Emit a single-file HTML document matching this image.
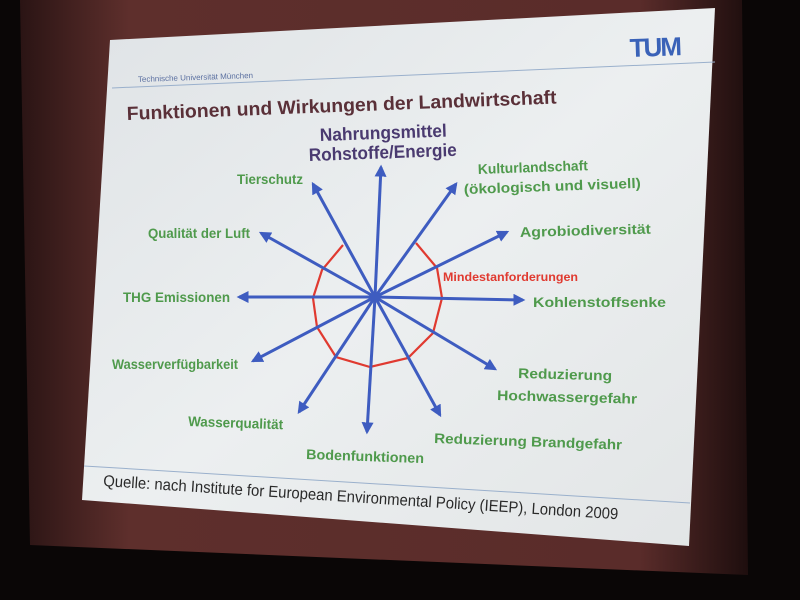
<!DOCTYPE html>
<html><head><meta charset="utf-8"><style>
html,body{margin:0;padding:0;background:#0a0606;}
svg{display:block;font-family:"Liberation Sans",sans-serif;}
.g{fill:#4f9a4c;font-weight:bold;font-size:14px;}
</style></head><body>
<svg width="800" height="600" viewBox="0 0 800 600" xmlns="http://www.w3.org/2000/svg">
<defs>
<linearGradient id="sl" x1="0" y1="0" x2="1" y2="1">
<stop offset="0" stop-color="#dfe3e6"/><stop offset="0.5" stop-color="#eceff0"/><stop offset="1" stop-color="#e2e5e6"/></linearGradient>
<linearGradient id="fr" x1="0" y1="0" x2="1" y2="0">
<stop offset="0" stop-color="#2a1414"/><stop offset="0.15" stop-color="#5e2f2c"/><stop offset="0.85" stop-color="#5a2c2a"/><stop offset="1" stop-color="#1e0e0e"/></linearGradient>
<marker id="ah" viewBox="0 0 10 10" refX="8" refY="5" markerWidth="4" markerHeight="4" orient="auto"><path d="M0,0L10,5L0,10z" fill="#3e5cc0"/></marker>
</defs>
<rect width="800" height="600" fill="#0a0606"/>
<polygon points="20,0 742,0 748,575 30,545" fill="url(#fr)"/>
<polygon points="110,40 715,8 689,546 82,500" fill="url(#sl)"/>
<text x="138" y="82" font-size="8" fill="#5a6fa0" transform="rotate(-2 138 82)">Technische Universität München</text>
<line x1="112" y1="88" x2="715" y2="62" stroke="#9ab0cc" stroke-width="1"/>
<text x="630" y="57" font-size="26" font-weight="bold" fill="#3a62b8" letter-spacing="-2" transform="rotate(-2 630 57)">TUM</text>
<text x="127" y="120" font-size="19" font-weight="bold" fill="#5a3038" textLength="430" lengthAdjust="spacingAndGlyphs" transform="rotate(-2.2 127 120)">Funktionen und Wirkungen der Landwirtschaft</text>
<polyline points="343,245 322,270 313,298 317,327 336,357 370,367 408,358 433,333 442,298 437,268 416,243" fill="none" stroke="#e03a30" stroke-width="2.2"/>
<g stroke="#3e5cc0" stroke-width="3" marker-end="url(#ah)">
<line x1="375" y1="297" x2="381" y2="167"/>
<line x1="375" y1="297" x2="313" y2="184"/>
<line x1="375" y1="297" x2="456" y2="184"/>
<line x1="375" y1="297" x2="261" y2="233"/>
<line x1="375" y1="297" x2="507" y2="232"/>
<line x1="375" y1="297" x2="239" y2="297"/>
<line x1="375" y1="297" x2="523" y2="300"/>
<line x1="375" y1="297" x2="253" y2="361"/>
<line x1="375" y1="297" x2="495" y2="369"/>
<line x1="375" y1="297" x2="299" y2="412"/>
<line x1="375" y1="297" x2="367" y2="432"/>
<line x1="375" y1="297" x2="440" y2="415"/>
</g>
<circle cx="375" cy="297" r="5" fill="#3e5cc0"/>
<text x="320" y="141" font-size="18" font-weight="bold" fill="#4a3a70" textLength="127" lengthAdjust="spacingAndGlyphs" transform="rotate(-2 320 141)">Nahrungsmittel</text>
<text x="309" y="161" font-size="18" font-weight="bold" fill="#4a3a70" textLength="148" lengthAdjust="spacingAndGlyphs" transform="rotate(-2 309 161)">Rohstoffe/Energie</text>
<text class="g" x="237" y="184" textLength="66" lengthAdjust="spacingAndGlyphs">Tierschutz</text>
<text class="g" x="478" y="174" font-size="15" textLength="110" lengthAdjust="spacingAndGlyphs" transform="rotate(-2 478 174)">Kulturlandschaft</text>
<text class="g" x="464" y="194" font-size="15" textLength="177" lengthAdjust="spacingAndGlyphs" transform="rotate(-2 464 194)">(ökologisch und visuell)</text>
<text class="g" x="148" y="238" textLength="102" lengthAdjust="spacingAndGlyphs">Qualität der Luft</text>
<text class="g" x="520" y="237" font-size="16" textLength="131" lengthAdjust="spacingAndGlyphs" transform="rotate(-1.5 520 237)">Agrobiodiversität</text>
<text x="443" y="281" font-size="12" font-weight="bold" fill="#e03a30" textLength="135" lengthAdjust="spacingAndGlyphs">Mindestanforderungen</text>
<text class="g" x="123" y="302" textLength="107" lengthAdjust="spacingAndGlyphs">THG  Emissionen</text>
<text class="g" x="533" y="307" font-size="16" textLength="133" lengthAdjust="spacingAndGlyphs">Kohlenstoffsenke</text>
<text class="g" x="112" y="369" textLength="126" lengthAdjust="spacingAndGlyphs">Wasserverfügbarkeit</text>
<text class="g" x="518" y="378" font-size="16" textLength="94" lengthAdjust="spacingAndGlyphs" transform="rotate(1.5 518 378)">Reduzierung</text>
<text class="g" x="497" y="400" font-size="16" textLength="140" lengthAdjust="spacingAndGlyphs" transform="rotate(1.5 497 400)">Hochwassergefahr</text>
<text class="g" x="188" y="426" textLength="95" lengthAdjust="spacingAndGlyphs" transform="rotate(2 188 426)">Wasserqualität</text>
<text class="g" x="434" y="443" font-size="16" textLength="188" lengthAdjust="spacingAndGlyphs" transform="rotate(2 434 443)">Reduzierung Brandgefahr</text>
<text class="g" x="306" y="459" font-size="15" textLength="118" lengthAdjust="spacingAndGlyphs" transform="rotate(2 306 459)">Bodenfunktionen</text>
<line x1="84" y1="466" x2="690" y2="503" stroke="#9ab0cc" stroke-width="1"/>
<text x="103" y="486" font-size="16" fill="#2a2a2a" textLength="516" lengthAdjust="spacingAndGlyphs" transform="rotate(3.7 103 486)">Quelle: nach Institute for European Environmental Policy (IEEP), London 2009</text>
</svg>
</body></html>
